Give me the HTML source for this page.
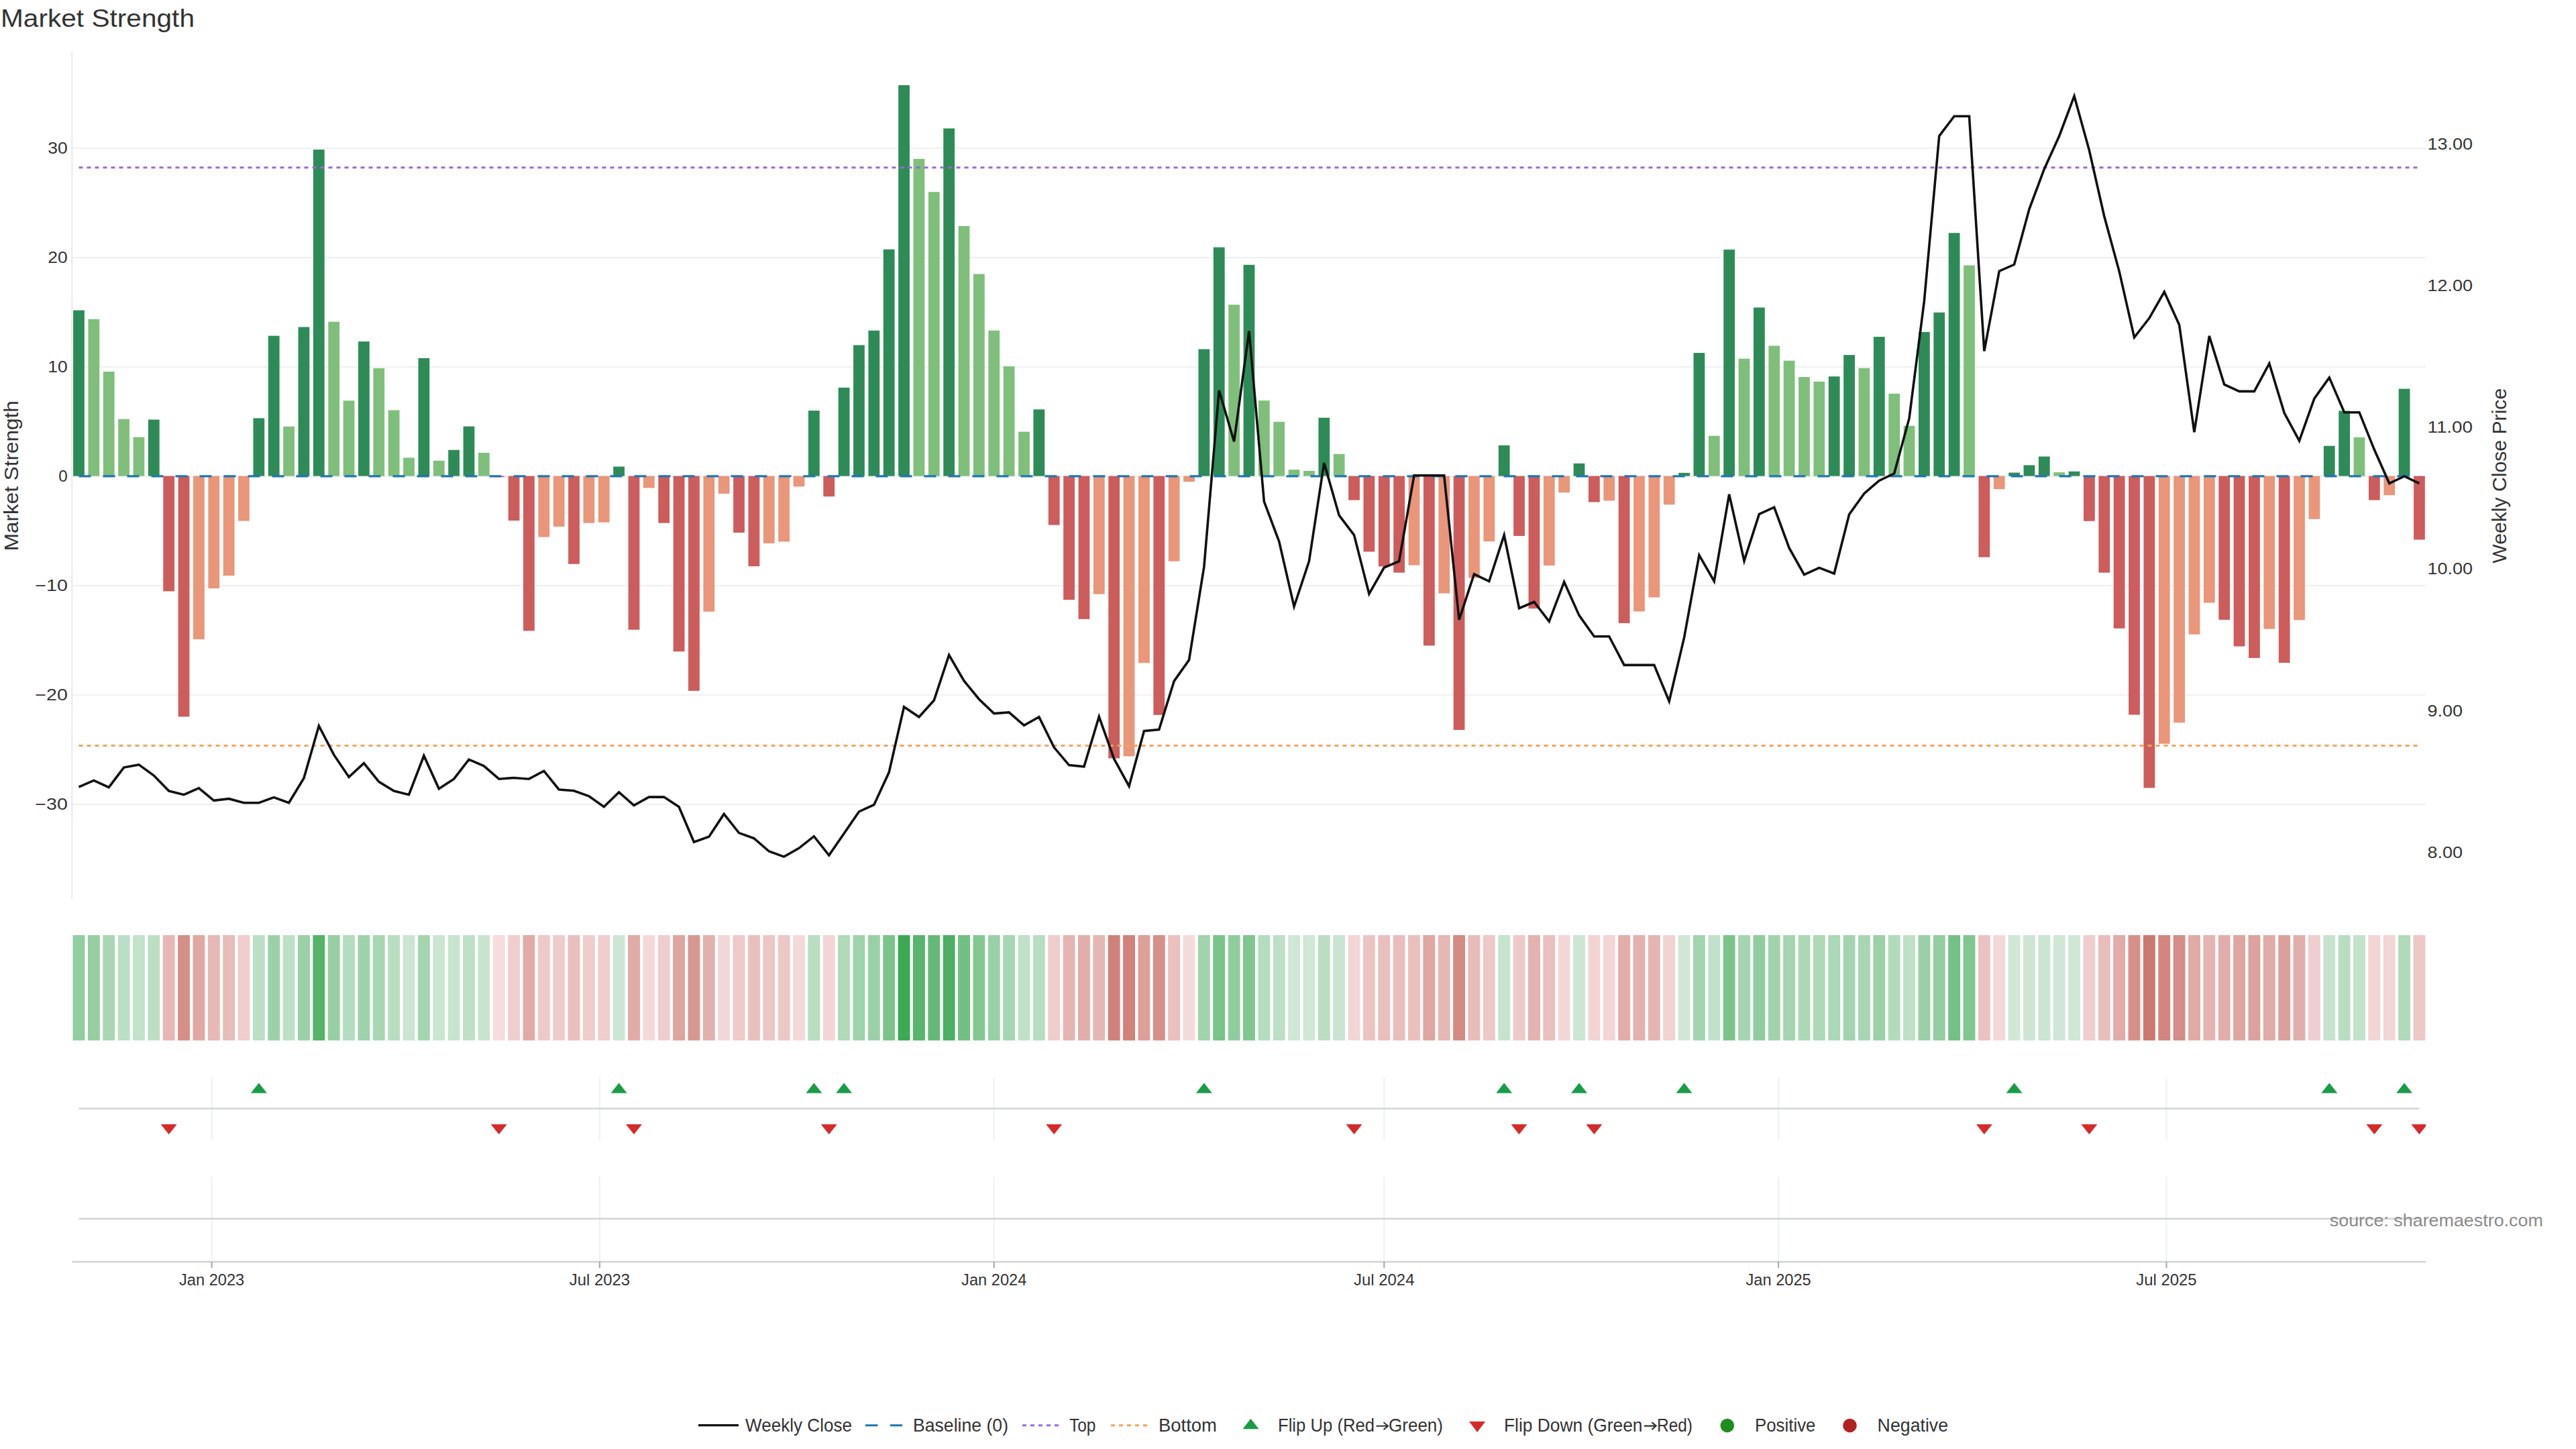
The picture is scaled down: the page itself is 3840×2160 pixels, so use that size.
<!DOCTYPE html>
<html><head><meta charset="utf-8"><title>Market Strength</title>
<style>html,body{margin:0;padding:0;background:#fff;width:3840px;height:2160px;overflow:hidden;font-family:"Liberation Sans", sans-serif;}svg{display:block}</style>
</head><body>
<svg width="3840" height="2160" viewBox="0 0 3840 2160" font-family='"Liberation Sans", sans-serif'>
<rect width="3840" height="2160" fill="#ffffff"/>
<defs><clipPath id="pc"><rect x="107" y="60" width="3509" height="1900"/></clipPath></defs>
<text x="1" y="40" font-size="36.5" fill="#333333" textLength="289" lengthAdjust="spacingAndGlyphs">Market Strength</text>
<line x1="107" x2="3616" y1="221" y2="221" stroke="#eef0f2" stroke-width="2"/>
<line x1="107" x2="3616" y1="384" y2="384" stroke="#eef0f2" stroke-width="2"/>
<line x1="107" x2="3616" y1="547" y2="547" stroke="#eef0f2" stroke-width="2"/>
<line x1="107" x2="3616" y1="710" y2="710" stroke="#eef0f2" stroke-width="2"/>
<line x1="107" x2="3616" y1="873" y2="873" stroke="#eef0f2" stroke-width="2"/>
<line x1="107" x2="3616" y1="1036" y2="1036" stroke="#eef0f2" stroke-width="2"/>
<line x1="107" x2="3616" y1="1199" y2="1199" stroke="#eef0f2" stroke-width="2"/>
<line x1="107.3" x2="107.3" y1="78" y2="1340" stroke="#e8e8ea" stroke-width="2"/>
<rect x="109.11" y="462.53" width="16.77" height="247.07" fill="#2e8b57"/>
<rect x="131.48" y="475.75" width="16.77" height="233.85" fill="#7fbf7b"/>
<rect x="153.84" y="553.98" width="16.77" height="155.62" fill="#7fbf7b"/>
<rect x="176.21" y="624.68" width="16.77" height="84.92" fill="#7fbf7b"/>
<rect x="198.57" y="651.63" width="16.77" height="57.97" fill="#7fbf7b"/>
<rect x="220.94" y="625.5" width="16.77" height="84.1" fill="#2e8b57"/>
<rect x="243.31" y="709.6" width="16.77" height="171.79" fill="#cd5c5c"/>
<rect x="265.67" y="709.6" width="16.77" height="358.77" fill="#cd5c5c"/>
<rect x="288.03" y="709.6" width="16.77" height="243.32" fill="#e9967a"/>
<rect x="310.4" y="709.6" width="16.77" height="167.55" fill="#e9967a"/>
<rect x="332.76" y="709.6" width="16.77" height="148.6" fill="#e9967a"/>
<rect x="355.13" y="709.6" width="16.77" height="66.95" fill="#e9967a"/>
<rect x="377.5" y="623.38" width="16.77" height="86.22" fill="#2e8b57"/>
<rect x="399.86" y="500.58" width="16.77" height="209.02" fill="#2e8b57"/>
<rect x="422.22" y="635.79" width="16.77" height="73.81" fill="#7fbf7b"/>
<rect x="444.59" y="487.51" width="16.77" height="222.09" fill="#2e8b57"/>
<rect x="466.95" y="222.97" width="16.77" height="486.63" fill="#2e8b57"/>
<rect x="489.32" y="479.67" width="16.77" height="229.93" fill="#7fbf7b"/>
<rect x="511.68" y="597.25" width="16.77" height="112.35" fill="#7fbf7b"/>
<rect x="534.05" y="509.07" width="16.77" height="200.53" fill="#2e8b57"/>
<rect x="556.41" y="548.91" width="16.77" height="160.69" fill="#7fbf7b"/>
<rect x="578.78" y="611.46" width="16.77" height="98.14" fill="#7fbf7b"/>
<rect x="601.14" y="682.33" width="16.77" height="27.27" fill="#7fbf7b"/>
<rect x="623.51" y="533.89" width="16.77" height="175.71" fill="#2e8b57"/>
<rect x="645.88" y="686.74" width="16.77" height="22.86" fill="#7fbf7b"/>
<rect x="668.24" y="670.73" width="16.77" height="38.87" fill="#2e8b57"/>
<rect x="690.61" y="635.63" width="16.77" height="73.97" fill="#2e8b57"/>
<rect x="712.97" y="674.98" width="16.77" height="34.62" fill="#7fbf7b"/>
<rect x="735.33" y="709.6" width="16.77" height="1.63" fill="#cd5c5c"/>
<rect x="757.7" y="709.6" width="16.77" height="66.46" fill="#cd5c5c"/>
<rect x="780.06" y="709.6" width="16.77" height="230.74" fill="#cd5c5c"/>
<rect x="802.43" y="709.6" width="16.77" height="90.96" fill="#e9967a"/>
<rect x="824.79" y="709.6" width="16.77" height="75.44" fill="#e9967a"/>
<rect x="847.16" y="709.6" width="16.77" height="131.13" fill="#cd5c5c"/>
<rect x="869.52" y="709.6" width="16.77" height="70.06" fill="#e9967a"/>
<rect x="891.89" y="709.6" width="16.77" height="69.08" fill="#e9967a"/>
<rect x="914.25" y="695.56" width="16.77" height="14.04" fill="#2e8b57"/>
<rect x="936.62" y="709.6" width="16.77" height="229.11" fill="#cd5c5c"/>
<rect x="958.98" y="709.6" width="16.77" height="17.8" fill="#e9967a"/>
<rect x="981.35" y="709.6" width="16.77" height="70.06" fill="#cd5c5c"/>
<rect x="1003.71" y="709.6" width="16.77" height="261.61" fill="#cd5c5c"/>
<rect x="1026.08" y="709.6" width="16.77" height="320.23" fill="#cd5c5c"/>
<rect x="1048.44" y="709.6" width="16.77" height="202.17" fill="#e9967a"/>
<rect x="1070.81" y="709.6" width="16.77" height="26.29" fill="#e9967a"/>
<rect x="1093.17" y="709.6" width="16.77" height="84.43" fill="#cd5c5c"/>
<rect x="1115.54" y="709.6" width="16.77" height="134.56" fill="#cd5c5c"/>
<rect x="1137.9" y="709.6" width="16.77" height="100.27" fill="#e9967a"/>
<rect x="1160.27" y="709.6" width="16.77" height="97.82" fill="#e9967a"/>
<rect x="1182.63" y="709.6" width="16.77" height="15.68" fill="#e9967a"/>
<rect x="1205" y="612.11" width="16.77" height="97.49" fill="#2e8b57"/>
<rect x="1227.37" y="709.6" width="16.77" height="30.54" fill="#cd5c5c"/>
<rect x="1249.73" y="577.82" width="16.77" height="131.78" fill="#2e8b57"/>
<rect x="1272.1" y="514.46" width="16.77" height="195.14" fill="#2e8b57"/>
<rect x="1294.46" y="492.74" width="16.77" height="216.86" fill="#2e8b57"/>
<rect x="1316.82" y="371.73" width="16.77" height="337.87" fill="#2e8b57"/>
<rect x="1339.19" y="126.95" width="16.77" height="582.65" fill="#2e8b57"/>
<rect x="1361.55" y="236.85" width="16.77" height="472.75" fill="#7fbf7b"/>
<rect x="1383.92" y="286.16" width="16.77" height="423.44" fill="#7fbf7b"/>
<rect x="1406.28" y="191.45" width="16.77" height="518.15" fill="#2e8b57"/>
<rect x="1428.65" y="336.95" width="16.77" height="372.65" fill="#7fbf7b"/>
<rect x="1451.01" y="408.47" width="16.77" height="301.13" fill="#7fbf7b"/>
<rect x="1473.38" y="492.74" width="16.77" height="216.86" fill="#7fbf7b"/>
<rect x="1495.74" y="546.14" width="16.77" height="163.46" fill="#7fbf7b"/>
<rect x="1518.11" y="643.63" width="16.77" height="65.97" fill="#7fbf7b"/>
<rect x="1540.47" y="610.31" width="16.77" height="99.29" fill="#2e8b57"/>
<rect x="1562.84" y="709.6" width="16.77" height="73" fill="#cd5c5c"/>
<rect x="1585.2" y="709.6" width="16.77" height="184.53" fill="#cd5c5c"/>
<rect x="1607.57" y="709.6" width="16.77" height="213.27" fill="#cd5c5c"/>
<rect x="1629.93" y="709.6" width="16.77" height="176.04" fill="#e9967a"/>
<rect x="1652.3" y="709.6" width="16.77" height="420.82" fill="#cd5c5c"/>
<rect x="1674.66" y="709.6" width="16.77" height="417.72" fill="#e9967a"/>
<rect x="1697.03" y="709.6" width="16.77" height="278.75" fill="#e9967a"/>
<rect x="1719.39" y="709.6" width="16.77" height="356.16" fill="#cd5c5c"/>
<rect x="1741.76" y="709.6" width="16.77" height="127.05" fill="#e9967a"/>
<rect x="1764.12" y="709.6" width="16.77" height="8.49" fill="#e9967a"/>
<rect x="1786.49" y="520.5" width="16.77" height="189.1" fill="#2e8b57"/>
<rect x="1808.85" y="368.63" width="16.77" height="340.97" fill="#2e8b57"/>
<rect x="1831.22" y="454.2" width="16.77" height="255.4" fill="#7fbf7b"/>
<rect x="1853.58" y="394.76" width="16.77" height="314.84" fill="#2e8b57"/>
<rect x="1875.95" y="597.09" width="16.77" height="112.51" fill="#7fbf7b"/>
<rect x="1898.31" y="628.77" width="16.77" height="80.83" fill="#7fbf7b"/>
<rect x="1920.68" y="700.13" width="16.77" height="9.47" fill="#7fbf7b"/>
<rect x="1943.04" y="701.92" width="16.77" height="7.68" fill="#7fbf7b"/>
<rect x="1965.41" y="622.72" width="16.77" height="86.88" fill="#2e8b57"/>
<rect x="1987.77" y="676.78" width="16.77" height="32.82" fill="#7fbf7b"/>
<rect x="2010.14" y="709.6" width="16.77" height="35.93" fill="#cd5c5c"/>
<rect x="2032.5" y="709.6" width="16.77" height="112.84" fill="#cd5c5c"/>
<rect x="2054.87" y="709.6" width="16.77" height="134.72" fill="#cd5c5c"/>
<rect x="2077.23" y="709.6" width="16.77" height="144.03" fill="#cd5c5c"/>
<rect x="2099.6" y="709.6" width="16.77" height="132.93" fill="#e9967a"/>
<rect x="2121.96" y="709.6" width="16.77" height="252.79" fill="#cd5c5c"/>
<rect x="2144.33" y="709.6" width="16.77" height="174.89" fill="#e9967a"/>
<rect x="2166.69" y="709.6" width="16.77" height="378.53" fill="#cd5c5c"/>
<rect x="2189.06" y="709.6" width="16.77" height="151.87" fill="#e9967a"/>
<rect x="2211.42" y="709.6" width="16.77" height="97.49" fill="#e9967a"/>
<rect x="2233.79" y="663.88" width="16.77" height="45.72" fill="#2e8b57"/>
<rect x="2256.15" y="709.6" width="16.77" height="89.33" fill="#cd5c5c"/>
<rect x="2278.52" y="709.6" width="16.77" height="197.59" fill="#cd5c5c"/>
<rect x="2300.88" y="709.6" width="16.77" height="133.42" fill="#e9967a"/>
<rect x="2323.25" y="709.6" width="16.77" height="24.66" fill="#e9967a"/>
<rect x="2345.61" y="690.82" width="16.77" height="18.78" fill="#2e8b57"/>
<rect x="2367.98" y="709.6" width="16.77" height="38.87" fill="#cd5c5c"/>
<rect x="2390.34" y="709.6" width="16.77" height="36.74" fill="#e9967a"/>
<rect x="2412.71" y="709.6" width="16.77" height="219.31" fill="#cd5c5c"/>
<rect x="2435.07" y="709.6" width="16.77" height="201.84" fill="#e9967a"/>
<rect x="2457.44" y="709.6" width="16.77" height="180.94" fill="#e9967a"/>
<rect x="2479.8" y="709.6" width="16.77" height="42.62" fill="#e9967a"/>
<rect x="2502.17" y="704.86" width="16.77" height="4.74" fill="#2e8b57"/>
<rect x="2524.53" y="526.05" width="16.77" height="183.55" fill="#2e8b57"/>
<rect x="2546.9" y="649.67" width="16.77" height="59.93" fill="#7fbf7b"/>
<rect x="2569.26" y="372.06" width="16.77" height="337.54" fill="#2e8b57"/>
<rect x="2591.63" y="534.71" width="16.77" height="174.89" fill="#7fbf7b"/>
<rect x="2613.99" y="458.44" width="16.77" height="251.16" fill="#2e8b57"/>
<rect x="2636.36" y="515.44" width="16.77" height="194.16" fill="#7fbf7b"/>
<rect x="2658.72" y="537.65" width="16.77" height="171.95" fill="#7fbf7b"/>
<rect x="2681.09" y="561.98" width="16.77" height="147.62" fill="#7fbf7b"/>
<rect x="2703.45" y="568.84" width="16.77" height="140.76" fill="#7fbf7b"/>
<rect x="2725.82" y="561.16" width="16.77" height="148.44" fill="#2e8b57"/>
<rect x="2748.18" y="529.15" width="16.77" height="180.45" fill="#2e8b57"/>
<rect x="2770.55" y="548.75" width="16.77" height="160.85" fill="#7fbf7b"/>
<rect x="2792.91" y="502.05" width="16.77" height="207.55" fill="#2e8b57"/>
<rect x="2815.28" y="586.8" width="16.77" height="122.8" fill="#7fbf7b"/>
<rect x="2837.64" y="634.81" width="16.77" height="74.79" fill="#7fbf7b"/>
<rect x="2860.01" y="494.86" width="16.77" height="214.74" fill="#2e8b57"/>
<rect x="2882.37" y="465.79" width="16.77" height="243.81" fill="#2e8b57"/>
<rect x="2904.74" y="347.24" width="16.77" height="362.36" fill="#2e8b57"/>
<rect x="2927.1" y="395.57" width="16.77" height="314.03" fill="#7fbf7b"/>
<rect x="2949.47" y="709.6" width="16.77" height="121.01" fill="#cd5c5c"/>
<rect x="2971.83" y="709.6" width="16.77" height="19.6" fill="#e9967a"/>
<rect x="2994.2" y="704.54" width="16.77" height="5.06" fill="#2e8b57"/>
<rect x="3016.56" y="693.43" width="16.77" height="16.17" fill="#2e8b57"/>
<rect x="3038.93" y="680.53" width="16.77" height="29.07" fill="#2e8b57"/>
<rect x="3061.29" y="704.05" width="16.77" height="5.55" fill="#7fbf7b"/>
<rect x="3083.66" y="702.74" width="16.77" height="6.86" fill="#2e8b57"/>
<rect x="3106.02" y="709.6" width="16.77" height="67.12" fill="#cd5c5c"/>
<rect x="3128.39" y="709.6" width="16.77" height="144.03" fill="#cd5c5c"/>
<rect x="3150.75" y="709.6" width="16.77" height="227.15" fill="#cd5c5c"/>
<rect x="3173.12" y="709.6" width="16.77" height="355.83" fill="#cd5c5c"/>
<rect x="3195.48" y="709.6" width="16.77" height="464.92" fill="#cd5c5c"/>
<rect x="3217.85" y="709.6" width="16.77" height="399.11" fill="#e9967a"/>
<rect x="3240.21" y="709.6" width="16.77" height="367.75" fill="#e9967a"/>
<rect x="3262.58" y="709.6" width="16.77" height="236.13" fill="#e9967a"/>
<rect x="3284.94" y="709.6" width="16.77" height="188.94" fill="#e9967a"/>
<rect x="3307.31" y="709.6" width="16.77" height="214.25" fill="#cd5c5c"/>
<rect x="3329.67" y="709.6" width="16.77" height="253.93" fill="#cd5c5c"/>
<rect x="3352.04" y="709.6" width="16.77" height="271.24" fill="#cd5c5c"/>
<rect x="3374.4" y="709.6" width="16.77" height="227.97" fill="#e9967a"/>
<rect x="3396.77" y="709.6" width="16.77" height="278.43" fill="#cd5c5c"/>
<rect x="3419.13" y="709.6" width="16.77" height="214.74" fill="#e9967a"/>
<rect x="3441.5" y="709.6" width="16.77" height="64.18" fill="#e9967a"/>
<rect x="3463.86" y="664.69" width="16.77" height="44.91" fill="#2e8b57"/>
<rect x="3486.23" y="612.44" width="16.77" height="97.16" fill="#2e8b57"/>
<rect x="3508.59" y="651.96" width="16.77" height="57.64" fill="#7fbf7b"/>
<rect x="3530.96" y="709.6" width="16.77" height="35.93" fill="#cd5c5c"/>
<rect x="3553.32" y="709.6" width="16.77" height="28.58" fill="#e9967a"/>
<rect x="3575.69" y="579.61" width="16.77" height="129.99" fill="#2e8b57"/>
<rect x="3598.05" y="709.6" width="16.77" height="94.88" fill="#cd5c5c"/>
<line x1="117.5" x2="3606.44" y1="709.9" y2="709.9" stroke="#1f77b4" stroke-width="3.2" stroke-dasharray="18 18"/>
<line x1="117.5" x2="3606.44" y1="249.7" y2="249.7" stroke="#9b6ad6" stroke-width="3" stroke-dasharray="6 6"/>
<line x1="117.5" x2="3606.44" y1="1111.6" y2="1111.6" stroke="#f2a45c" stroke-width="3" stroke-dasharray="6 6"/>
<polyline points="117.5,1173.2 139.87,1163.4 162.23,1173.7 184.59,1144.1 206.96,1139.9 229.32,1156.1 251.69,1179.1 274.05,1184.7 296.42,1174.9 318.78,1193.3 341.15,1190.7 363.51,1196.7 385.88,1196.7 408.25,1188.6 430.61,1196.7 452.97,1159.9 475.34,1082 497.7,1125.2 520.07,1158.2 542.43,1137.6 564.8,1165.4 587.16,1179.1 609.53,1184.7 631.89,1126.5 654.26,1175.8 676.62,1161.2 698.99,1132.1 721.35,1141.9 743.72,1161.2 766.08,1159.5 788.45,1161.2 810.81,1149.2 833.18,1177 855.54,1178.7 877.91,1186.8 900.27,1202.7 922.64,1180.9 945,1200.5 967.37,1188.1 989.73,1188.1 1012.1,1202.7 1034.46,1255.3 1056.83,1247.2 1079.19,1213.4 1101.56,1241.6 1123.92,1249.7 1146.29,1269 1168.65,1277.1 1191.02,1264.3 1213.38,1246.7 1235.75,1275 1258.12,1242.5 1280.48,1209.9 1302.85,1199.7 1325.21,1151.3 1347.57,1053.8 1369.94,1068.8 1392.3,1044 1414.67,976.4 1437.03,1014.9 1459.4,1042.2 1481.76,1063.6 1504.13,1061.9 1526.49,1081.2 1548.86,1068.8 1571.22,1114.1 1593.59,1140.6 1615.95,1142.8 1638.32,1068.3 1660.68,1131.2 1683.05,1171.9 1705.41,1089.7 1727.78,1087.6 1750.14,1015.4 1772.51,983.7 1794.87,844.7 1817.24,582.1 1839.6,658.3 1861.97,493.6 1884.33,747.6 1906.7,807.1 1929.06,904.2 1951.43,836.6 1973.79,690 1996.16,768.1 2018.52,797.6 2040.89,885.3 2063.26,846 2085.62,836.6 2107.98,708.7 2130.35,708.7 2152.72,708.7 2175.08,923.9 2197.44,855.8 2219.81,866.5 2242.17,797.6 2264.54,906.7 2286.9,897.3 2309.27,926.4 2331.63,867.4 2354,917.4 2376.36,948.7 2398.73,948.7 2421.09,991.4 2443.46,991.4 2465.82,991.4 2488.19,1045.3 2510.55,950.4 2532.92,827.6 2555.28,866.5 2577.65,736.9 2600.01,836.1 2622.38,766.4 2644.74,756.1 2667.11,816.9 2689.47,856.7 2711.84,846.4 2734.2,855 2756.57,766.8 2778.93,735.6 2801.3,716.4 2823.66,705.8 2846.03,623.6 2868.39,448.7 2890.76,202.7 2913.12,173.2 2935.49,173.2 2957.86,523.5 2980.22,404.2 3002.58,394.3 3024.95,311.8 3047.31,251.9 3069.68,202.7 3092.04,143.2 3114.41,224.1 3136.77,322.5 3159.14,404.6 3181.5,503 3203.87,474.3 3226.23,435 3248.6,484.2 3270.96,644.2 3293.33,500.9 3315.69,573.2 3338.06,583.4 3360.42,583.4 3382.79,541.9 3405.15,615.5 3427.52,657 3449.88,594.1 3472.25,562.9 3494.61,614.7 3516.98,614.7 3539.34,670.3 3561.71,720.6 3584.07,709.9 3606.44,720.6" fill="none" stroke="#111111" stroke-width="3.6" stroke-linejoin="miter"/>
<text x="100.8" y="229" font-size="23.5" fill="#333333" text-anchor="end" textLength="29.5" lengthAdjust="spacingAndGlyphs">30</text>
<text x="100.8" y="392" font-size="23.5" fill="#333333" text-anchor="end" textLength="29.5" lengthAdjust="spacingAndGlyphs">20</text>
<text x="100.8" y="555" font-size="23.5" fill="#333333" text-anchor="end" textLength="29.5" lengthAdjust="spacingAndGlyphs">10</text>
<text x="100.8" y="718" font-size="23.5" fill="#333333" text-anchor="end" textLength="13.5" lengthAdjust="spacingAndGlyphs">0</text>
<text x="100.8" y="881" font-size="23.5" fill="#333333" text-anchor="end" textLength="48.5" lengthAdjust="spacingAndGlyphs">−10</text>
<text x="100.8" y="1044" font-size="23.5" fill="#333333" text-anchor="end" textLength="48.5" lengthAdjust="spacingAndGlyphs">−20</text>
<text x="100.8" y="1207" font-size="23.5" fill="#333333" text-anchor="end" textLength="48.5" lengthAdjust="spacingAndGlyphs">−30</text>
<text x="3618.5" y="223" font-size="23.5" fill="#333333" textLength="67.5" lengthAdjust="spacingAndGlyphs">13.00</text>
<text x="3618.5" y="434.14" font-size="23.5" fill="#333333" textLength="67.5" lengthAdjust="spacingAndGlyphs">12.00</text>
<text x="3618.5" y="645.28" font-size="23.5" fill="#333333" textLength="67.5" lengthAdjust="spacingAndGlyphs">11.00</text>
<text x="3618.5" y="856.42" font-size="23.5" fill="#333333" textLength="67.5" lengthAdjust="spacingAndGlyphs">10.00</text>
<text x="3618.5" y="1067.56" font-size="23.5" fill="#333333" textLength="52.5" lengthAdjust="spacingAndGlyphs">9.00</text>
<text x="3618.5" y="1278.7" font-size="23.5" fill="#333333" textLength="52.5" lengthAdjust="spacingAndGlyphs">8.00</text>
<text x="0" y="0" font-size="29.5" fill="#333333" text-anchor="middle" textLength="224" lengthAdjust="spacingAndGlyphs" transform="translate(27,709.3) rotate(-90)">Market Strength</text>
<text x="0" y="0" font-size="29.5" fill="#333333" text-anchor="middle" textLength="261" lengthAdjust="spacingAndGlyphs" transform="translate(3735.5,709.3) rotate(-90)">Weekly Close Price</text>
<rect x="108.55" y="1394" width="17.9" height="157" fill="#92cd9f"/>
<rect x="130.92" y="1394" width="17.9" height="157" fill="#96cea2"/>
<rect x="153.28" y="1394" width="17.9" height="157" fill="#a9d7b4"/>
<rect x="175.65" y="1394" width="17.9" height="157" fill="#bbdfc4"/>
<rect x="198.01" y="1394" width="17.9" height="157" fill="#c2e2ca"/>
<rect x="220.38" y="1394" width="17.9" height="157" fill="#bcdfc4"/>
<rect x="242.74" y="1394" width="17.9" height="157" fill="#e6b7b5"/>
<rect x="265.1" y="1394" width="17.9" height="157" fill="#d58f89"/>
<rect x="287.47" y="1394" width="17.9" height="157" fill="#dfa8a4"/>
<rect x="309.83" y="1394" width="17.9" height="157" fill="#e6b8b6"/>
<rect x="332.2" y="1394" width="17.9" height="157" fill="#e8bcba"/>
<rect x="354.56" y="1394" width="17.9" height="157" fill="#efcecd"/>
<rect x="376.93" y="1394" width="17.9" height="157" fill="#bbdfc4"/>
<rect x="399.3" y="1394" width="17.9" height="157" fill="#9cd1a8"/>
<rect x="421.66" y="1394" width="17.9" height="157" fill="#bee0c6"/>
<rect x="444.02" y="1394" width="17.9" height="157" fill="#99d0a5"/>
<rect x="466.39" y="1394" width="17.9" height="157" fill="#55b36a"/>
<rect x="488.75" y="1394" width="17.9" height="157" fill="#97cfa3"/>
<rect x="511.12" y="1394" width="17.9" height="157" fill="#b4dcbe"/>
<rect x="533.48" y="1394" width="17.9" height="157" fill="#9ed2aa"/>
<rect x="555.85" y="1394" width="17.9" height="157" fill="#a8d6b3"/>
<rect x="578.21" y="1394" width="17.9" height="157" fill="#b8ddc1"/>
<rect x="600.58" y="1394" width="17.9" height="157" fill="#cae5d1"/>
<rect x="622.94" y="1394" width="17.9" height="157" fill="#a4d5af"/>
<rect x="645.31" y="1394" width="17.9" height="157" fill="#cbe5d2"/>
<rect x="667.67" y="1394" width="17.9" height="157" fill="#c7e4ce"/>
<rect x="690.04" y="1394" width="17.9" height="157" fill="#bee0c6"/>
<rect x="712.4" y="1394" width="17.9" height="157" fill="#c8e4cf"/>
<rect x="734.77" y="1394" width="17.9" height="157" fill="#f5dcdd"/>
<rect x="757.13" y="1394" width="17.9" height="157" fill="#efcecd"/>
<rect x="779.5" y="1394" width="17.9" height="157" fill="#e1aba7"/>
<rect x="801.86" y="1394" width="17.9" height="157" fill="#edc9c8"/>
<rect x="824.23" y="1394" width="17.9" height="157" fill="#eecccb"/>
<rect x="846.59" y="1394" width="17.9" height="157" fill="#e9c0be"/>
<rect x="868.96" y="1394" width="17.9" height="157" fill="#efcdcd"/>
<rect x="891.32" y="1394" width="17.9" height="157" fill="#efcecd"/>
<rect x="913.69" y="1394" width="17.9" height="157" fill="#cde6d4"/>
<rect x="936.05" y="1394" width="17.9" height="157" fill="#e1aba7"/>
<rect x="958.42" y="1394" width="17.9" height="157" fill="#f3d9d9"/>
<rect x="980.78" y="1394" width="17.9" height="157" fill="#efcdcd"/>
<rect x="1003.15" y="1394" width="17.9" height="157" fill="#dea49f"/>
<rect x="1025.51" y="1394" width="17.9" height="157" fill="#d99792"/>
<rect x="1047.88" y="1394" width="17.9" height="157" fill="#e3b1ad"/>
<rect x="1070.24" y="1394" width="17.9" height="157" fill="#f3d7d7"/>
<rect x="1092.61" y="1394" width="17.9" height="157" fill="#eecac9"/>
<rect x="1114.97" y="1394" width="17.9" height="157" fill="#e9c0bd"/>
<rect x="1137.34" y="1394" width="17.9" height="157" fill="#ecc7c5"/>
<rect x="1159.7" y="1394" width="17.9" height="157" fill="#ecc7c6"/>
<rect x="1182.07" y="1394" width="17.9" height="157" fill="#f4d9d9"/>
<rect x="1204.43" y="1394" width="17.9" height="157" fill="#b8ddc1"/>
<rect x="1226.8" y="1394" width="17.9" height="157" fill="#f2d6d6"/>
<rect x="1249.16" y="1394" width="17.9" height="157" fill="#b0dab9"/>
<rect x="1271.53" y="1394" width="17.9" height="157" fill="#9fd3ab"/>
<rect x="1293.89" y="1394" width="17.9" height="157" fill="#9ad0a6"/>
<rect x="1316.26" y="1394" width="17.9" height="157" fill="#7bc38b"/>
<rect x="1338.62" y="1394" width="17.9" height="157" fill="#3da854"/>
<rect x="1360.99" y="1394" width="17.9" height="157" fill="#59b46d"/>
<rect x="1383.35" y="1394" width="17.9" height="157" fill="#65b978"/>
<rect x="1405.72" y="1394" width="17.9" height="157" fill="#4daf63"/>
<rect x="1428.08" y="1394" width="17.9" height="157" fill="#72bf83"/>
<rect x="1450.45" y="1394" width="17.9" height="157" fill="#85c793"/>
<rect x="1472.81" y="1394" width="17.9" height="157" fill="#9ad0a6"/>
<rect x="1495.18" y="1394" width="17.9" height="157" fill="#a7d6b2"/>
<rect x="1517.54" y="1394" width="17.9" height="157" fill="#c0e1c8"/>
<rect x="1539.91" y="1394" width="17.9" height="157" fill="#b8ddc1"/>
<rect x="1562.27" y="1394" width="17.9" height="157" fill="#efcdcc"/>
<rect x="1584.64" y="1394" width="17.9" height="157" fill="#e5b5b2"/>
<rect x="1607" y="1394" width="17.9" height="157" fill="#e2aeab"/>
<rect x="1629.37" y="1394" width="17.9" height="157" fill="#e5b7b4"/>
<rect x="1651.73" y="1394" width="17.9" height="157" fill="#d0827a"/>
<rect x="1674.1" y="1394" width="17.9" height="157" fill="#d0827b"/>
<rect x="1696.46" y="1394" width="17.9" height="157" fill="#dca09b"/>
<rect x="1718.83" y="1394" width="17.9" height="157" fill="#d69089"/>
<rect x="1741.19" y="1394" width="17.9" height="157" fill="#eac1bf"/>
<rect x="1763.56" y="1394" width="17.9" height="157" fill="#f4dbdb"/>
<rect x="1785.92" y="1394" width="17.9" height="157" fill="#a1d3ac"/>
<rect x="1808.29" y="1394" width="17.9" height="157" fill="#7ac38a"/>
<rect x="1830.65" y="1394" width="17.9" height="157" fill="#90cc9e"/>
<rect x="1853.02" y="1394" width="17.9" height="157" fill="#81c590"/>
<rect x="1875.38" y="1394" width="17.9" height="157" fill="#b4dcbe"/>
<rect x="1897.75" y="1394" width="17.9" height="157" fill="#bcdfc5"/>
<rect x="1920.11" y="1394" width="17.9" height="157" fill="#cfe7d5"/>
<rect x="1942.48" y="1394" width="17.9" height="157" fill="#cfe7d5"/>
<rect x="1964.84" y="1394" width="17.9" height="157" fill="#bbdec3"/>
<rect x="1987.21" y="1394" width="17.9" height="157" fill="#c9e4d0"/>
<rect x="2009.57" y="1394" width="17.9" height="157" fill="#f2d5d5"/>
<rect x="2031.94" y="1394" width="17.9" height="157" fill="#ebc4c2"/>
<rect x="2054.31" y="1394" width="17.9" height="157" fill="#e9bfbd"/>
<rect x="2076.67" y="1394" width="17.9" height="157" fill="#e8bdbb"/>
<rect x="2099.03" y="1394" width="17.9" height="157" fill="#e9c0be"/>
<rect x="2121.4" y="1394" width="17.9" height="157" fill="#dfa6a2"/>
<rect x="2143.77" y="1394" width="17.9" height="157" fill="#e6b7b4"/>
<rect x="2166.13" y="1394" width="17.9" height="157" fill="#d48b84"/>
<rect x="2188.49" y="1394" width="17.9" height="157" fill="#e8bcb9"/>
<rect x="2210.86" y="1394" width="17.9" height="157" fill="#ecc8c6"/>
<rect x="2233.22" y="1394" width="17.9" height="157" fill="#c5e3cd"/>
<rect x="2255.59" y="1394" width="17.9" height="157" fill="#edc9c8"/>
<rect x="2277.95" y="1394" width="17.9" height="157" fill="#e4b2af"/>
<rect x="2300.32" y="1394" width="17.9" height="157" fill="#e9c0be"/>
<rect x="2322.68" y="1394" width="17.9" height="157" fill="#f3d7d7"/>
<rect x="2345.05" y="1394" width="17.9" height="157" fill="#cce6d3"/>
<rect x="2367.41" y="1394" width="17.9" height="157" fill="#f2d4d4"/>
<rect x="2389.78" y="1394" width="17.9" height="157" fill="#f2d5d4"/>
<rect x="2412.14" y="1394" width="17.9" height="157" fill="#e2ada9"/>
<rect x="2434.51" y="1394" width="17.9" height="157" fill="#e3b1ae"/>
<rect x="2456.88" y="1394" width="17.9" height="157" fill="#e5b5b2"/>
<rect x="2479.24" y="1394" width="17.9" height="157" fill="#f1d3d3"/>
<rect x="2501.61" y="1394" width="17.9" height="157" fill="#d0e7d6"/>
<rect x="2523.97" y="1394" width="17.9" height="157" fill="#a2d4ae"/>
<rect x="2546.34" y="1394" width="17.9" height="157" fill="#c2e1ca"/>
<rect x="2568.7" y="1394" width="17.9" height="157" fill="#7bc38b"/>
<rect x="2591.07" y="1394" width="17.9" height="157" fill="#a5d5b0"/>
<rect x="2613.43" y="1394" width="17.9" height="157" fill="#91cc9f"/>
<rect x="2635.8" y="1394" width="17.9" height="157" fill="#a0d3ab"/>
<rect x="2658.16" y="1394" width="17.9" height="157" fill="#a5d5b0"/>
<rect x="2680.53" y="1394" width="17.9" height="157" fill="#acd8b6"/>
<rect x="2702.89" y="1394" width="17.9" height="157" fill="#add9b7"/>
<rect x="2725.26" y="1394" width="17.9" height="157" fill="#abd8b6"/>
<rect x="2747.62" y="1394" width="17.9" height="157" fill="#a3d4ae"/>
<rect x="2769.99" y="1394" width="17.9" height="157" fill="#a8d6b3"/>
<rect x="2792.35" y="1394" width="17.9" height="157" fill="#9cd1a8"/>
<rect x="2814.72" y="1394" width="17.9" height="157" fill="#b2dbbb"/>
<rect x="2837.08" y="1394" width="17.9" height="157" fill="#bee0c6"/>
<rect x="2859.45" y="1394" width="17.9" height="157" fill="#9ad0a7"/>
<rect x="2881.81" y="1394" width="17.9" height="157" fill="#93cda0"/>
<rect x="2904.18" y="1394" width="17.9" height="157" fill="#75c086"/>
<rect x="2926.54" y="1394" width="17.9" height="157" fill="#81c690"/>
<rect x="2948.91" y="1394" width="17.9" height="157" fill="#eac2c1"/>
<rect x="2971.27" y="1394" width="17.9" height="157" fill="#f3d8d8"/>
<rect x="2993.63" y="1394" width="17.9" height="157" fill="#d0e7d6"/>
<rect x="3016" y="1394" width="17.9" height="157" fill="#cde6d3"/>
<rect x="3038.36" y="1394" width="17.9" height="157" fill="#cae5d0"/>
<rect x="3060.73" y="1394" width="17.9" height="157" fill="#d0e7d6"/>
<rect x="3083.09" y="1394" width="17.9" height="157" fill="#cfe7d5"/>
<rect x="3105.46" y="1394" width="17.9" height="157" fill="#efcecd"/>
<rect x="3127.82" y="1394" width="17.9" height="157" fill="#e8bdbb"/>
<rect x="3150.19" y="1394" width="17.9" height="157" fill="#e1aba8"/>
<rect x="3172.55" y="1394" width="17.9" height="157" fill="#d69089"/>
<rect x="3194.92" y="1394" width="17.9" height="157" fill="#cc7870"/>
<rect x="3217.28" y="1394" width="17.9" height="157" fill="#d2867f"/>
<rect x="3239.65" y="1394" width="17.9" height="157" fill="#d48d87"/>
<rect x="3262.01" y="1394" width="17.9" height="157" fill="#e0aaa5"/>
<rect x="3284.38" y="1394" width="17.9" height="157" fill="#e4b4b1"/>
<rect x="3306.74" y="1394" width="17.9" height="157" fill="#e2aeab"/>
<rect x="3329.11" y="1394" width="17.9" height="157" fill="#dfa6a1"/>
<rect x="3351.47" y="1394" width="17.9" height="157" fill="#dda29d"/>
<rect x="3373.84" y="1394" width="17.9" height="157" fill="#e1aba7"/>
<rect x="3396.2" y="1394" width="17.9" height="157" fill="#dca09c"/>
<rect x="3418.57" y="1394" width="17.9" height="157" fill="#e2aeab"/>
<rect x="3440.93" y="1394" width="17.9" height="157" fill="#efcfce"/>
<rect x="3463.3" y="1394" width="17.9" height="157" fill="#c6e3cd"/>
<rect x="3485.66" y="1394" width="17.9" height="157" fill="#b8ddc1"/>
<rect x="3508.03" y="1394" width="17.9" height="157" fill="#c2e2ca"/>
<rect x="3530.39" y="1394" width="17.9" height="157" fill="#f2d5d5"/>
<rect x="3552.76" y="1394" width="17.9" height="157" fill="#f2d6d6"/>
<rect x="3575.12" y="1394" width="17.9" height="157" fill="#b0daba"/>
<rect x="3597.49" y="1394" width="17.9" height="157" fill="#edc8c7"/>
<line x1="315.59" x2="315.59" y1="1606" y2="1700" stroke="#edf0f2" stroke-width="2"/>
<line x1="315.59" x2="315.59" y1="1754.4" y2="1881" stroke="#edf0f2" stroke-width="2"/>
<line x1="893.88" x2="893.88" y1="1606" y2="1700" stroke="#edf0f2" stroke-width="2"/>
<line x1="893.88" x2="893.88" y1="1754.4" y2="1881" stroke="#edf0f2" stroke-width="2"/>
<line x1="1481.76" x2="1481.76" y1="1606" y2="1700" stroke="#edf0f2" stroke-width="2"/>
<line x1="1481.76" x2="1481.76" y1="1754.4" y2="1881" stroke="#edf0f2" stroke-width="2"/>
<line x1="2063.26" x2="2063.26" y1="1606" y2="1700" stroke="#edf0f2" stroke-width="2"/>
<line x1="2063.26" x2="2063.26" y1="1754.4" y2="1881" stroke="#edf0f2" stroke-width="2"/>
<line x1="2651.13" x2="2651.13" y1="1606" y2="1700" stroke="#edf0f2" stroke-width="2"/>
<line x1="2651.13" x2="2651.13" y1="1754.4" y2="1881" stroke="#edf0f2" stroke-width="2"/>
<line x1="3229.43" x2="3229.43" y1="1606" y2="1700" stroke="#edf0f2" stroke-width="2"/>
<line x1="3229.43" x2="3229.43" y1="1754.4" y2="1881" stroke="#edf0f2" stroke-width="2"/>
<line x1="117.5" x2="3606.44" y1="1652.6" y2="1652.6" stroke="#d2d4d6" stroke-width="2.5"/>
<line x1="117.5" x2="3606.44" y1="1816.8" y2="1816.8" stroke="#d2d4d6" stroke-width="2.5"/>
<g clip-path="url(#pc)">
<path d="M239.69,1675.9 L263.69,1675.9 L251.69,1691.1 Z" fill="#d62a2a"/>
<path d="M385.88,1614.3 L397.88,1629.5 L373.88,1629.5 Z" fill="#1a9c47"/>
<path d="M731.72,1675.9 L755.72,1675.9 L743.72,1691.1 Z" fill="#d62a2a"/>
<path d="M922.64,1614.3 L934.64,1629.5 L910.64,1629.5 Z" fill="#1a9c47"/>
<path d="M933,1675.9 L957,1675.9 L945,1691.1 Z" fill="#d62a2a"/>
<path d="M1213.38,1614.3 L1225.38,1629.5 L1201.38,1629.5 Z" fill="#1a9c47"/>
<path d="M1223.75,1675.9 L1247.75,1675.9 L1235.75,1691.1 Z" fill="#d62a2a"/>
<path d="M1258.12,1614.3 L1270.12,1629.5 L1246.12,1629.5 Z" fill="#1a9c47"/>
<path d="M1559.22,1675.9 L1583.22,1675.9 L1571.22,1691.1 Z" fill="#d62a2a"/>
<path d="M1794.87,1614.3 L1806.87,1629.5 L1782.87,1629.5 Z" fill="#1a9c47"/>
<path d="M2006.52,1675.9 L2030.52,1675.9 L2018.52,1691.1 Z" fill="#d62a2a"/>
<path d="M2242.17,1614.3 L2254.17,1629.5 L2230.17,1629.5 Z" fill="#1a9c47"/>
<path d="M2252.54,1675.9 L2276.54,1675.9 L2264.54,1691.1 Z" fill="#d62a2a"/>
<path d="M2354,1614.3 L2366,1629.5 L2342,1629.5 Z" fill="#1a9c47"/>
<path d="M2364.36,1675.9 L2388.36,1675.9 L2376.36,1691.1 Z" fill="#d62a2a"/>
<path d="M2510.55,1614.3 L2522.55,1629.5 L2498.55,1629.5 Z" fill="#1a9c47"/>
<path d="M2945.86,1675.9 L2969.86,1675.9 L2957.86,1691.1 Z" fill="#d62a2a"/>
<path d="M3002.58,1614.3 L3014.58,1629.5 L2990.58,1629.5 Z" fill="#1a9c47"/>
<path d="M3102.41,1675.9 L3126.41,1675.9 L3114.41,1691.1 Z" fill="#d62a2a"/>
<path d="M3472.25,1614.3 L3484.25,1629.5 L3460.25,1629.5 Z" fill="#1a9c47"/>
<path d="M3527.34,1675.9 L3551.34,1675.9 L3539.34,1691.1 Z" fill="#d62a2a"/>
<path d="M3584.07,1614.3 L3596.07,1629.5 L3572.07,1629.5 Z" fill="#1a9c47"/>
<path d="M3594.44,1675.9 L3618.44,1675.9 L3606.44,1691.1 Z" fill="#d62a2a"/>
</g>
<line x1="107.5" x2="3616" y1="1881" y2="1881" stroke="#cfd1d3" stroke-width="2.5"/>
<line x1="315.59" x2="315.59" y1="1881" y2="1890" stroke="#a3a5a7" stroke-width="2"/>
<text x="315.59" y="1916" font-size="24.5" fill="#333333" text-anchor="middle" textLength="97.3" lengthAdjust="spacingAndGlyphs">Jan 2023</text>
<line x1="893.88" x2="893.88" y1="1881" y2="1890" stroke="#a3a5a7" stroke-width="2"/>
<text x="893.88" y="1916" font-size="24.5" fill="#333333" text-anchor="middle" textLength="90.4" lengthAdjust="spacingAndGlyphs">Jul 2023</text>
<line x1="1481.76" x2="1481.76" y1="1881" y2="1890" stroke="#a3a5a7" stroke-width="2"/>
<text x="1481.76" y="1916" font-size="24.5" fill="#333333" text-anchor="middle" textLength="97.3" lengthAdjust="spacingAndGlyphs">Jan 2024</text>
<line x1="2063.26" x2="2063.26" y1="1881" y2="1890" stroke="#a3a5a7" stroke-width="2"/>
<text x="2063.26" y="1916" font-size="24.5" fill="#333333" text-anchor="middle" textLength="90.4" lengthAdjust="spacingAndGlyphs">Jul 2024</text>
<line x1="2651.13" x2="2651.13" y1="1881" y2="1890" stroke="#a3a5a7" stroke-width="2"/>
<text x="2651.13" y="1916" font-size="24.5" fill="#333333" text-anchor="middle" textLength="97.3" lengthAdjust="spacingAndGlyphs">Jan 2025</text>
<line x1="3229.43" x2="3229.43" y1="1881" y2="1890" stroke="#a3a5a7" stroke-width="2"/>
<text x="3229.43" y="1916" font-size="24.5" fill="#333333" text-anchor="middle" textLength="90.4" lengthAdjust="spacingAndGlyphs">Jul 2025</text>
<text x="3472.8" y="1828" font-size="25" fill="#8a8a8a" textLength="318" lengthAdjust="spacingAndGlyphs">source: sharemaestro.com</text>
<line x1="1041" x2="1101" y1="2124.7" y2="2124.7" stroke="#111" stroke-width="3.2"/>
<text x="1111" y="2134.2" font-size="27.5" fill="#333333" textLength="159" lengthAdjust="spacingAndGlyphs">Weekly Close</text>
<line x1="1290" x2="1345" y1="2124.7" y2="2124.7" stroke="#1f77b4" stroke-width="3" stroke-dasharray="18.5 18.5"/>
<text x="1361" y="2134.2" font-size="27.5" fill="#333333" textLength="142" lengthAdjust="spacingAndGlyphs">Baseline (0)</text>
<line x1="1524" x2="1579" y1="2124.7" y2="2124.7" stroke="#9b6ad6" stroke-width="3" stroke-dasharray="6 6"/>
<text x="1594" y="2134.2" font-size="27.5" fill="#333333" textLength="39.5" lengthAdjust="spacingAndGlyphs">Top</text>
<line x1="1656" x2="1712" y1="2124.7" y2="2124.7" stroke="#f2a45c" stroke-width="3" stroke-dasharray="6 6"/>
<text x="1727" y="2134.2" font-size="27.5" fill="#333333" textLength="87" lengthAdjust="spacingAndGlyphs">Bottom</text>
<path d="M1864.5,2114.7 L1876.5,2130.3 L1852.5,2130.3 Z" fill="#1a9c47"/>
<text x="1905" y="2134.2" font-size="27.5" fill="#333333" textLength="144" lengthAdjust="spacingAndGlyphs">Flip Up (Red</text>
<path d="M2051.5,2125.7 H2068.5 M2062.5,2120.2 L2069,2125.7 L2062.5,2131.2" fill="none" stroke="#333333" stroke-width="2.1"/>
<text x="2070" y="2134.2" font-size="27.5" fill="#333333" textLength="81" lengthAdjust="spacingAndGlyphs">Green)</text>
<path d="M2190,2119 L2214.2,2119 L2202.1,2135 Z" fill="#d62a2a"/>
<text x="2242" y="2134.2" font-size="27.5" fill="#333333" textLength="206.5" lengthAdjust="spacingAndGlyphs">Flip Down (Green</text>
<path d="M2450.8,2125.6 H2468.3 M2462.3,2120.1 L2468.8,2125.6 L2462.3,2131.1" fill="none" stroke="#333333" stroke-width="2.1"/>
<text x="2470" y="2134.2" font-size="27.5" fill="#333333" textLength="53" lengthAdjust="spacingAndGlyphs">Red)</text>
<circle cx="2574.8" cy="2125" r="10.3" fill="#1f8c1f"/>
<text x="2616" y="2134.2" font-size="27.5" fill="#333333" textLength="90.5" lengthAdjust="spacingAndGlyphs">Positive</text>
<circle cx="2757.5" cy="2125" r="10.3" fill="#b22222"/>
<text x="2798.6" y="2134.2" font-size="27.5" fill="#333333" textLength="105.5" lengthAdjust="spacingAndGlyphs">Negative</text>
</svg>
</body></html>
